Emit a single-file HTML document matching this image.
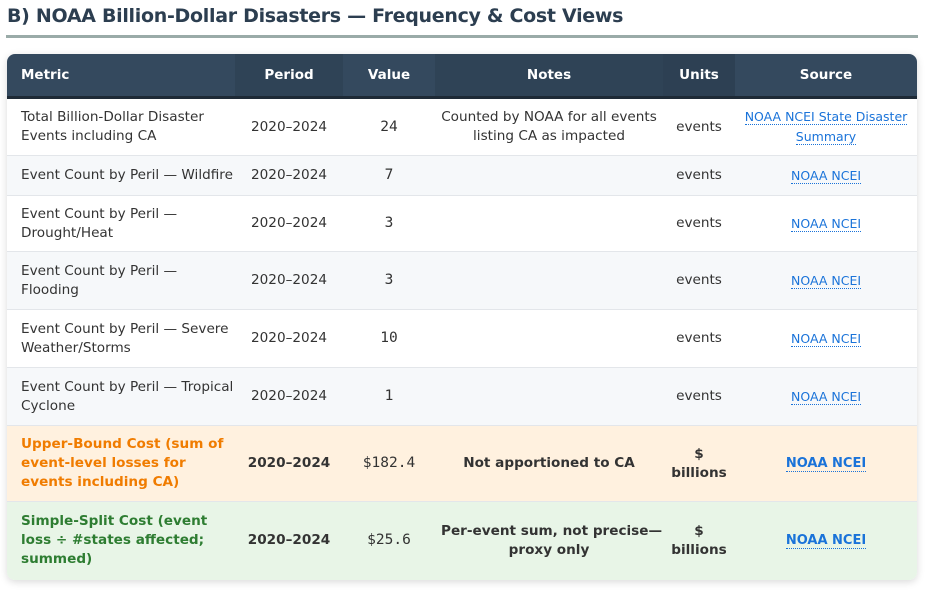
<!DOCTYPE html>
<html><head><meta charset="utf-8"><style>
body{margin:0;width:936px;height:600px;background:#fff;font-family:"DejaVu Sans",Verdana,sans-serif;overflow:hidden;position:relative}
h2{position:absolute;left:7px;top:5px;margin:0;font-size:19px;font-weight:bold;color:#2c3e50;letter-spacing:-0.3px}
.rule{position:absolute;left:6px;top:35px;width:912px;height:3px;background:#9aaba8}
.wrap{position:absolute;left:7px;top:54px;width:910px;height:526px;border-radius:8px;overflow:hidden;box-shadow:0 2px 8px rgba(0,0,0,.15)}
table{border-collapse:collapse;width:910px;table-layout:fixed;font-size:13.6px;color:#333;letter-spacing:0}
th{height:42px;color:#fff;font-weight:bold;font-size:13.5px;border-bottom:3px solid #1e2a36;text-align:center;padding:0}
th.m{text-align:left;padding-left:14px}
td{text-align:center;padding:0 6px;border-bottom:1px solid #e3e6ea;line-height:19px;white-space:nowrap}
td.m{text-align:left;padding-left:14px;padding-right:4px}
td.v{font-family:"DejaVu Sans Mono",monospace;font-size:14.5px}
tr.alt td{background:#f6f8fa}
a{color:#1a73d9;text-decoration:none;border-bottom:1px dotted #1a73d9;font-size:12.5px}
tr.o td{background:#fff1df;font-weight:bold}
tr.o td.m{color:#f07c00}
tr.g td{background:#e8f5e7;font-weight:bold}
tr.g td.m{color:#2e7d32}
tr.o td.v,tr.g td.v{font-weight:normal}
tr.o a,tr.g a{font-weight:bold;font-size:13px}
</style></head><body>
<h2>B) NOAA Billion-Dollar Disasters — Frequency &amp; Cost Views</h2>
<div class="rule"></div>
<div class="wrap">
<table>
<colgroup><col style="width:228px"><col style="width:108px"><col style="width:92px"><col style="width:228px"><col style="width:72px"><col style="width:182px"></colgroup>
<tr>
<th class="m" style="background:#34495e">Metric</th>
<th style="background:#2f4356">Period</th>
<th style="background:#34495e">Value</th>
<th style="background:#2f4356">Notes</th>
<th style="background:#2d4053">Units</th>
<th style="background:#34495e">Source</th>
</tr>
<tr style="height:58px"><td class="m">Total Billion-Dollar Disaster<br>Events including CA</td><td>2020–2024</td><td class="v">24</td><td>Counted by NOAA for all events<br>listing CA as impacted</td><td>events</td><td><a>NOAA NCEI State Disaster</a><br><a>Summary</a></td></tr>
<tr class="alt" style="height:40px"><td class="m">Event Count by Peril — Wildfire</td><td>2020–2024</td><td class="v">7</td><td></td><td>events</td><td><a>NOAA NCEI</a></td></tr>
<tr style="height:56px"><td class="m">Event Count by Peril —<br>Drought/Heat</td><td>2020–2024</td><td class="v">3</td><td></td><td>events</td><td><a>NOAA NCEI</a></td></tr>
<tr class="alt" style="height:58px"><td class="m">Event Count by Peril —<br>Flooding</td><td>2020–2024</td><td class="v">3</td><td></td><td>events</td><td><a>NOAA NCEI</a></td></tr>
<tr style="height:58px"><td class="m">Event Count by Peril — Severe<br>Weather/Storms</td><td>2020–2024</td><td class="v">10</td><td></td><td>events</td><td><a>NOAA NCEI</a></td></tr>
<tr class="alt" style="height:58px"><td class="m">Event Count by Peril — Tropical<br>Cyclone</td><td>2020–2024</td><td class="v">1</td><td></td><td>events</td><td><a>NOAA NCEI</a></td></tr>
<tr class="o" style="height:76px"><td class="m">Upper-Bound Cost (sum of<br>event-level losses for<br>events including CA)</td><td>2020–2024</td><td class="v">$182.4</td><td>Not apportioned to CA</td><td>$<br>billions</td><td><a>NOAA NCEI</a></td></tr>
<tr class="g" style="height:78px"><td class="m" style="border:none">Simple-Split Cost (event<br>loss ÷ #states affected;<br>summed)</td><td style="border:none">2020–2024</td><td class="v" style="border:none">$25.6</td><td style="border:none">Per-event sum, not precise—<br>proxy only</td><td style="border:none">$<br>billions</td><td style="border:none"><a>NOAA NCEI</a></td></tr>
</table>
</div>
</body></html>
